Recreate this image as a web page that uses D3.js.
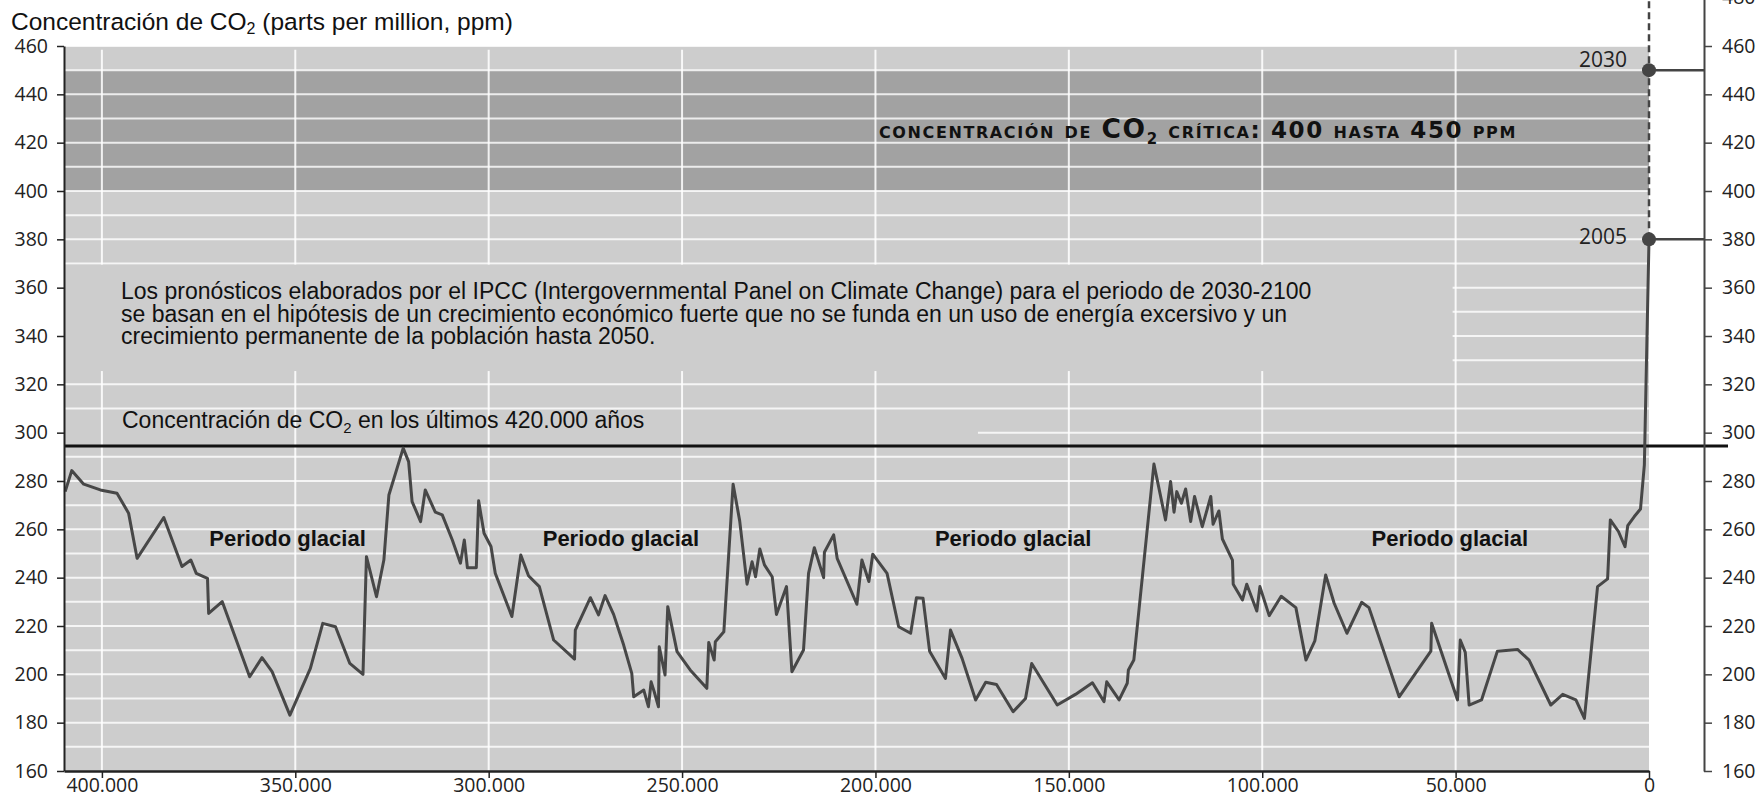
<!DOCTYPE html>
<html><head><meta charset="utf-8">
<script src="https://cdn.jsdelivr.net/npm/d3@7"></script>
<style>body{margin:0;background:#fff;} svg{display:block;}</style>
</head><body>
<svg id="chart" width="1760" height="798"></svg>
<script>
// ---- data ----
const years = [409500,407800,404700,400400,396100,393100,390900,384000,379300,377000,375600,372700,372400,368900,361800,358600,356000,351400,346100,342900,339600,335900,332500,331600,329000,327100,325800,322100,320700,319800,317600,316400,313800,312000,309400,307300,306300,305500,303200,302600,301200,299400,298300,294000,291700,289700,286900,283200,277800,277600,273700,271600,269900,267700,265100,263000,262500,259900,258700,258000,257200,256100,255900,254400,253700,251300,247900,243600,243100,241700,241400,239200,236800,235100,233200,231900,231000,229900,228700,226700,225600,223000,221600,218600,217300,215800,213400,213200,210800,209900,204800,203500,201700,200700,197000,194000,190900,189400,187700,186000,181900,180600,177600,174100,171500,168700,164400,161200,159600,153000,148300,143900,140900,140200,137000,134900,134600,133200,128000,125000,123700,122800,122100,120900,119800,118500,117500,115500,113300,112700,111200,110300,107700,107500,105100,104000,101400,100600,98200,95100,91300,88700,86400,83600,81400,78100,74300,72400,64600,56400,56200,49500,48800,47500,46500,43300,39200,34000,31000,25400,22300,18900,16700,13300,10700,10000,7900,6200,5500,3800,2200,1200,0];
const co2 = [275.6,284.3,278.7,276.3,274.9,266.7,248,264.9,244.6,247.3,241.8,239.7,225.2,230.1,199,206.9,201.1,183.1,202.5,221.1,219.7,204.5,200,248.7,232.1,247.3,274.2,293.6,288,271.5,263.2,276.3,267.1,266,255.6,246,255.6,244.1,244.1,271.8,258.4,252.9,241.8,223.9,249.4,240.8,236.3,214.2,206.3,218.3,231.7,224.6,232.6,224.8,212.1,200.4,190.7,193.5,186.6,196.9,192.8,186.6,211.4,199.7,228,209.4,201.8,194.2,213.2,205.9,213.5,217.6,278.7,263.5,237.3,246.6,240.4,251.9,245.3,240.4,224.8,236.3,201.1,210.1,241.8,252.4,240,250.5,257.7,248,229,247.3,238.4,249.7,241.8,219.7,217,231.7,231.5,209.6,198.3,218.3,206.6,189.4,196.7,195.8,184.5,190,204.5,187.3,191.7,196.5,188.7,196.9,189.4,196.3,201.8,205.9,287,263.9,279.8,267.1,275.6,270.8,276.7,263.2,273.6,261.1,273.6,262.1,267.6,256,247.3,237.3,230.8,237.3,226.2,236.3,224.3,232.3,227.6,205.9,213.8,241.1,229.4,217,229.8,227.6,190.7,209.6,221.1,189.4,214.2,209.1,187.3,189.4,209.6,210.3,205.9,187.3,191.7,189.4,181.8,236.3,239.5,263.9,259.1,252.8,261.5,265.3,268.4,286.7,380];

const xTicks = [400000,350000,300000,250000,200000,150000,100000,50000,0];
const xTickLabels = ["400.000","350.000","300.000","250.000","200.000","150.000","100.000","50.000","0"];
const yTicksLeft = [160,180,200,220,240,260,280,300,320,340,360,380,400,420,440,460];
const yTicksRight = [160,180,200,220,240,260,280,300,320,340,360,380,400,420,440,460,480];
const gridValues = [170,180,190,200,210,220,230,240,250,260,270,280,290,300,310,320,330,340,350,360,370,380,390,400,410,420,430,440,450,460];

const projLabels = ["2005","2030"];
const projValues = [380, 450];
const criticalRange = [400, 450];
const referenceLevel = 294.5;
const glacialLabel = "Periodo glacial";
const glacialCenters = [352000, 265800, 164400, 51500];

const titleMain = "Concentración de CO";
const titleRest = " (parts per million, ppm)";
const ipccLines = [
  "Los pronósticos elaborados por el IPCC (Intergovernmental Panel on Climate Change) para el periodo de 2030-2100",
  "se basan en el hipótesis de un crecimiento económico fuerte que no se funda en un uso de energía excersivo y un",
  "crecimiento permanente de la población hasta 2050."
];

// ---- layout ----
const svg = d3.select("#chart");
const x = d3.scaleLinear().domain([409800, 0]).range([64, 1649]);
const y = d3.scaleLinear().domain([160, 460]).range([771, 46]);
const yR = d3.scaleLinear().domain([160, 480]).range([y(160), y(480)]);
const rightAxisX = 1704;
const BG = "#cdcdcd";
const sans = "'Liberation Sans', Arial, sans-serif";
const tickFont = "'Open Sans', 'Noto Sans', sans-serif";

// background
svg.append("rect").attr("x", x(409800)).attr("y", y(460))
  .attr("width", x(0) - x(409800)).attr("height", y(160) - y(460)).attr("fill", BG);
// critical band
svg.append("rect").attr("x", x(409800)).attr("y", y(criticalRange[1]))
  .attr("width", x(0) - x(409800)).attr("height", y(criticalRange[0]) - y(criticalRange[1])).attr("fill", "#a2a2a2");

// horizontal grid
svg.append("g").selectAll("line").data(gridValues).join("line")
  .attr("x1", x(409800)).attr("x2", x(0))
  .attr("y1", d => y(d)).attr("y2", d => y(d))
  .attr("stroke", "#fff").attr("stroke-opacity", 0.8).attr("stroke-width", 2);
// mask behind the 420.000 label
svg.append("rect").attr("x", x(409800)).attr("y", y(300) - 2.5)
  .attr("width", x(173500) - x(409800)).attr("height", 5).attr("fill", BG);
// vertical grid
svg.append("g").selectAll("line").data(xTicks.filter(d => d > 0)).join("line")
  .attr("x1", d => x(d)).attr("x2", d => x(d))
  .attr("y1", y(458.5)).attr("y2", y(160))
  .attr("stroke", "#fff").attr("stroke-opacity", 0.85).attr("stroke-width", 2);
// IPCC text box
svg.append("rect").attr("x", x(409800)).attr("y", y(369.5))
  .attr("width", x(50000) - 3 - x(409800)).attr("height", y(325.5) - y(369.5)).attr("fill", BG);

// title
const title = svg.append("text").attr("x", 11).attr("y", 30)
  .attr("font-family", sans).attr("font-size", 24.5).attr("fill", "#111");
title.append("tspan").text(titleMain);
title.append("tspan").attr("font-size", 16).attr("dy", 4).text("2");
title.append("tspan").attr("dy", -4).text(titleRest);

// critical text
const crit = svg.append("text").attr("x", 879).attr("y", y(420) - 5)
  .attr("font-family", "'DejaVu Sans', sans-serif").attr("font-weight", "bold")
  .attr("font-size", 23).attr("font-variant", "small-caps").attr("letter-spacing", 1.6).attr("fill", "#111");
crit.append("tspan").text("concentración de ");
crit.append("tspan").attr("font-size", 26.5).text("CO");
crit.append("tspan").attr("font-size", 15).attr("dy", 6).text("2");
crit.append("tspan").attr("dy", -6).text(" crítica: 400 hasta 450 ppm");

// IPCC text
svg.append("g").selectAll("text").data(ipccLines).join("text")
  .attr("x", 121).attr("y", (d, i) => 299 + i * 22.7)
  .attr("font-family", sans).attr("font-size", 23).attr("fill", "#111").text(d => d);

// 420.000 label
const lab = svg.append("text").attr("x", 122).attr("y", y(referenceLevel) - 18)
  .attr("font-family", sans).attr("font-size", 23).attr("fill", "#111");
lab.append("tspan").text("Concentración de CO");
lab.append("tspan").attr("font-size", 15).attr("dy", 5).text("2");
lab.append("tspan").attr("dy", -5).text(" en los últimos 420.000 años");

// glacial labels
svg.append("g").selectAll("text").data(glacialCenters).join("text")
  .attr("x", d => x(d)).attr("y", y(253))
  .attr("text-anchor", "middle").attr("font-family", sans).attr("font-weight", "bold")
  .attr("font-size", 22).attr("fill", "#111").text(glacialLabel);

// reference line
svg.append("line").attr("x1", x(409800)).attr("x2", 1728)
  .attr("y1", y(referenceLevel)).attr("y2", y(referenceLevel))
  .attr("stroke", "#111").attr("stroke-width", 3);

// data line
svg.append("path").datum(years.map((d, i) => [d, co2[i]]))
  .attr("d", d3.line().x(d => x(d[0])).y(d => y(d[1])))
  .attr("fill", "none").attr("stroke", "#474747").attr("stroke-width", 3)
  .attr("stroke-linejoin", "round");

// projection dashed line
svg.append("line").attr("x1", x(0)).attr("x2", x(0))
  .attr("y1", y(projValues[0])).attr("y2", yR(480))
  .attr("stroke", "#444").attr("stroke-width", 2.5).attr("stroke-dasharray", "7,4");
// connectors
svg.append("g").selectAll("line").data(projValues).join("line")
  .attr("x1", x(0)).attr("x2", rightAxisX).attr("y1", d => y(d)).attr("y2", d => y(d))
  .attr("stroke", "#444").attr("stroke-width", 2.5);
svg.append("g").selectAll("circle").data(projValues).join("circle")
  .attr("cx", x(0)).attr("cy", d => y(d)).attr("r", 7).attr("fill", "#444");
svg.append("g").selectAll("text").data(projValues).join("text")
  .attr("x", x(0) - 22).attr("y", (d, i) => y(d) + (i === 0 ? 5 : -3.5))
  .attr("text-anchor", "end").attr("font-family", tickFont).attr("font-size", 21)
  .attr("fill", "#222").text((d, i) => projLabels[i]);

// axes
function styleAxis(g, w) {
  g.select(".domain").attr("stroke", "#222").attr("stroke-width", w);
  g.selectAll(".tick line").attr("stroke", "#222").attr("stroke-width", 1.5);
  g.selectAll(".tick text").attr("font-family", tickFont).attr("font-size", 19.5).attr("fill", "#222");
}
const gl = svg.append("g").attr("transform", `translate(${x(409800)},0)`)
  .call(d3.axisLeft(y).tickValues(yTicksLeft).tickSize(7).tickPadding(9).tickSizeOuter(0).tickFormat(d3.format("d")));
styleAxis(gl, 2);
const gb = svg.append("g").attr("transform", `translate(0,${y(160)})`)
  .call(d3.axisBottom(x).tickValues(xTicks).tickSize(7).tickPadding(0).tickSizeOuter(0)
    .tickFormat((d, i) => xTickLabels[i]));
styleAxis(gb, 2.5);
const gr = svg.append("g").attr("transform", `translate(${rightAxisX},0)`)
  .call(d3.axisRight(yR).tickValues(yTicksRight).tickSize(8).tickPadding(10).tickSizeOuter(0).tickFormat(d3.format("d")));
styleAxis(gr, 2);
gr.select(".domain").attr("stroke", "#444");
gr.selectAll(".tick line").attr("stroke", "#444");
</script>
</body></html>
